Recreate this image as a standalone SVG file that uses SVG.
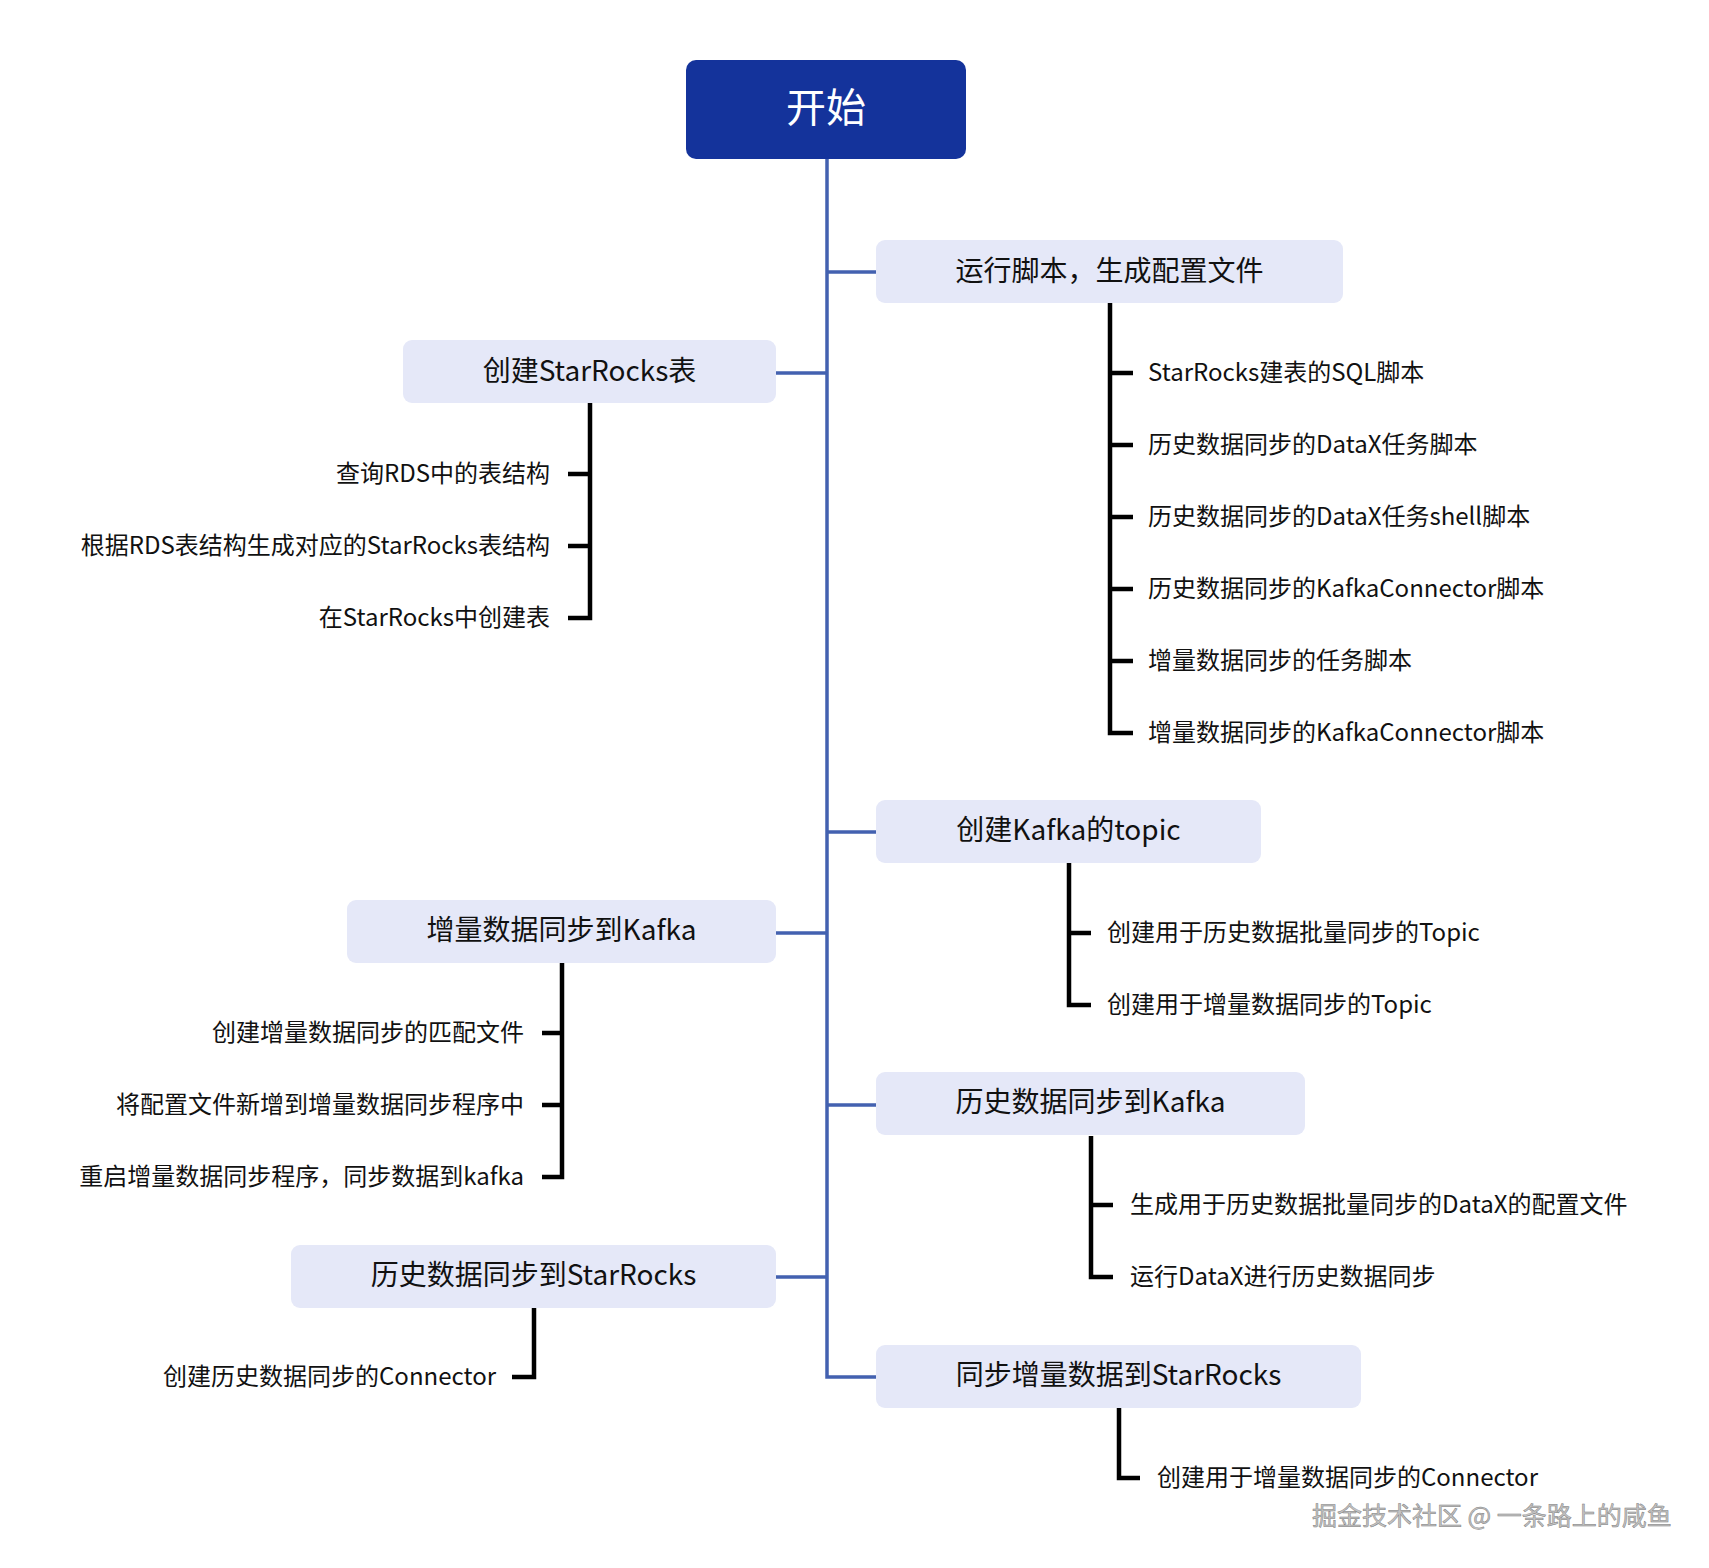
<svg xmlns="http://www.w3.org/2000/svg" width="1709" height="1568" viewBox="0 0 1709 1568">
<style>
text { font-family: "Noto Sans CJK SC", "Noto Sans", sans-serif; dominant-baseline: central; }
.root { fill: #14339b; }
.rootT { fill: #ffffff; font-size: 40px; text-anchor: middle; }
.box { fill: #e5e8f8; }
.boxT { fill: #111111; font-size: 28px; text-anchor: middle; }
.leaf { fill: #111111; font-size: 24px; }
.leafL { fill: #111111; font-size: 24px; text-anchor: end; }
.trunk { fill: none; stroke: #4361b0; stroke-width: 3.5; }
.sub { fill: none; stroke: #000000; stroke-width: 4.5; }
.wm { font-size: 25px; fill: #c4c4c4; stroke: #808080; stroke-width: 0.5; }
</style>
<rect width="1709" height="1568" fill="#ffffff"/>
<g id="connectors">
  <path class="trunk" d="M827 159 V1377 H876"/>
  <path class="trunk" d="M827 272 H876 M827 373 H776 M827 832 H876 M827 933 H776 M827 1105 H876 M827 1277 H776"/>
  <path class="sub" d="M1110 303 V733 H1133 M1110 373 H1133 M1110 445 H1133 M1110 517 H1133 M1110 589 H1133 M1110 661 H1133"/>
  <path class="sub" d="M590 403 V618 H568 M590 474 H568 M590 546 H568"/>
  <path class="sub" d="M1069 863 V1005 H1091 M1069 933 H1091"/>
  <path class="sub" d="M562 963 V1177 H542 M562 1033 H542 M562 1105 H542"/>
  <path class="sub" d="M1091 1136 V1277 H1113 M1091 1205 H1113"/>
  <path class="sub" d="M534 1308 V1377 H512"/>
  <path class="sub" d="M1119 1408 V1478 H1140"/>
</g>
<g id="root">
  <rect class="root" x="686" y="60" width="280" height="99" rx="10"/>
  <text class="rootT" x="826" y="105">开始</text>
</g>
<g id="n1">
  <rect class="box" x="876" y="240" width="467" height="63" rx="9"/>
  <text class="boxT" x="1109.5" y="269">运行脚本，生成配置文件</text>
</g>
<g id="n1c">
  <text class="leaf" x="1148" y="370">StarRocks建表的SQL脚本</text>
  <text class="leaf" x="1148" y="442">历史数据同步的DataX任务脚本</text>
  <text class="leaf" x="1148" y="514">历史数据同步的DataX任务shell脚本</text>
  <text class="leaf" x="1148" y="586">历史数据同步的KafkaConnector脚本</text>
  <text class="leaf" x="1148" y="658">增量数据同步的任务脚本</text>
  <text class="leaf" x="1148" y="730">增量数据同步的KafkaConnector脚本</text>
</g>
<g id="n2">
  <rect class="box" x="403" y="340" width="373" height="63" rx="9"/>
  <text class="boxT" x="589.5" y="369">创建StarRocks表</text>
</g>
<g id="n2c">
  <text class="leafL" x="550" y="471">查询RDS中的表结构</text>
  <text class="leafL" x="550" y="543">根据RDS表结构生成对应的StarRocks表结构</text>
  <text class="leafL" x="550" y="615">在StarRocks中创建表</text>
</g>
<g id="n3">
  <rect class="box" x="876" y="800" width="385" height="63" rx="9"/>
  <text class="boxT" x="1068.5" y="828">创建Kafka的topic</text>
</g>
<g id="n3c">
  <text class="leaf" x="1107" y="930">创建用于历史数据批量同步的Topic</text>
  <text class="leaf" x="1107" y="1002">创建用于增量数据同步的Topic</text>
</g>
<g id="n4">
  <rect class="box" x="347" y="900" width="429" height="63" rx="9"/>
  <text class="boxT" x="561.5" y="928">增量数据同步到Kafka</text>
</g>
<g id="n4c">
  <text class="leafL" x="524" y="1030">创建增量数据同步的匹配文件</text>
  <text class="leafL" x="524" y="1102">将配置文件新增到增量数据同步程序中</text>
  <text class="leafL" x="524" y="1174">重启增量数据同步程序，同步数据到kafka</text>
</g>
<g id="n5">
  <rect class="box" x="876" y="1072" width="429" height="63" rx="9"/>
  <text class="boxT" x="1090.5" y="1100">历史数据同步到Kafka</text>
</g>
<g id="n5c">
  <text class="leaf" x="1130" y="1202">生成用于历史数据批量同步的DataX的配置文件</text>
  <text class="leaf" x="1130" y="1274">运行DataX进行历史数据同步</text>
</g>
<g id="n6">
  <rect class="box" x="291" y="1245" width="485" height="63" rx="9"/>
  <text class="boxT" x="533.5" y="1273">历史数据同步到StarRocks</text>
</g>
<g id="n6c">
  <text class="leafL" x="496" y="1374">创建历史数据同步的Connector</text>
</g>
<g id="n7">
  <rect class="box" x="876" y="1345" width="485" height="63" rx="9"/>
  <text class="boxT" x="1118.5" y="1373">同步增量数据到StarRocks</text>
</g>
<g id="n7c">
  <text class="leaf" x="1157" y="1475">创建用于增量数据同步的Connector</text>
</g>
<text class="wm" x="1312" y="1514">掘金技术社区 @ 一条路上的咸鱼</text>
</svg>
